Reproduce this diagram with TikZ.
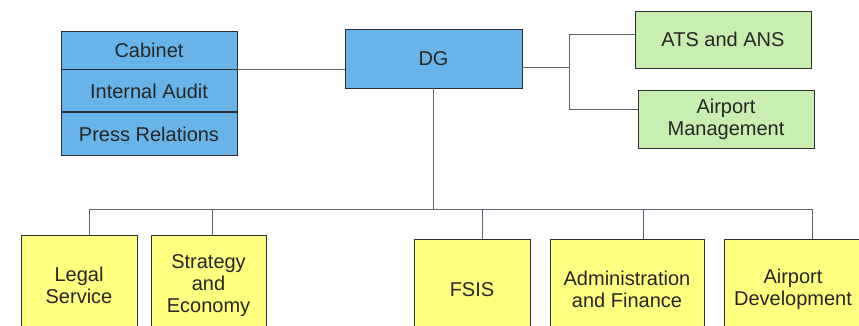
\documentclass[tikz,border=0pt]{standalone}
\usepackage{fontspec}
\setmainfont{Liberation Sans}
\usetikzlibrary{positioning, calc}
\definecolor{cBlue}{RGB}{104,180,232}
\definecolor{cGreen}{RGB}{200,238,178}
\definecolor{cYellow}{RGB}{255,255,128}
\definecolor{cLine}{RGB}{95,100,112}
\definecolor{cEdge}{RGB}{45,45,52}
\tikzset{
	box/.style   ={rectangle, draw=cEdge, line width=0.9pt, align=center, inner sep=0pt, text=black!85},
	staff/.style ={box, fill=cBlue, minimum width=176pt},
	ops/.style   ={box, fill=cGreen, minimum width=176pt},
	dept/.style  ={box, fill=cYellow, anchor=north, minimum height=100pt},
	link/.style  ={draw=cLine, line width=0.9pt},
}
\begin{document}
\begin{tikzpicture}[x=1pt, y=-1pt, font=\fontsize{20}{22}\selectfont]
			\useasboundingbox (0,0) rectangle (859,326);
			\clip (0,0) rectangle (859,326);
			% staff units
			\node[staff, minimum height=38pt] (cab) at (149,50) {Cabinet};
			\node[staff, minimum height=42pt, below=0pt of cab] (audit) {Internal Audit};
			\node[staff, minimum height=43pt, below=0pt of audit] (press) {Press Relations};
			\node[staff, minimum width=177pt, minimum height=59pt] (dg) at (433.5,58.5) {DG};
			% operations
			\node[ops, minimum height=57pt] (ats) at (723,39.5) {ATS and ANS};
			\node[ops, minimum height=58pt] (apm) at (726,119) {Airport\\ Management};
			% departments
			\node[dept, minimum width=116pt] (legal) at (79,235) {Legal\\ Service};
			\node[dept, minimum width=115pt] (strat) at (208.5,235) {Strategy\\ and\\ Economy};
			\node[dept, minimum width=116pt] (fsis) at (472,239) {FSIS};
			\node[dept, minimum width=154pt] (admin) at (627,239) {Administration\\ and Finance};
			\node[dept, minimum width=138pt] (airdev) at (793,239) {Airport\\ Development};
			% junctions
			\coordinate (rj) at (569,67);
			\coordinate (rt) at (569,34);
			\coordinate (rb) at (569,109);
			\coordinate (bLegal) at (89,209);
			\coordinate (bStrat) at (212,209);
			\coordinate (bFsis) at (482,209);
			\coordinate (bAdmin) at (643,209);
			\coordinate (bAirdev) at (812,209);
			\draw[link] (cab.south east) -- (cab.south east -| dg.west);
			\draw[link] (dg.east |- rj) -- (rj);
			\draw[link] (rt -| ats.west) -- (rt) -- (rb) -- (rb -| apm.west);
			\draw[link] (dg.south) -- (dg.south |- bLegal);
			\draw[link] (bLegal) -- (bAirdev);
			\foreach \n/\b in {legal/bLegal, strat/bStrat, fsis/bFsis, admin/bAdmin, airdev/bAirdev}
				\draw[link] (\b) -- (\b |- \n.north);
		\end{tikzpicture}
\end{document}
